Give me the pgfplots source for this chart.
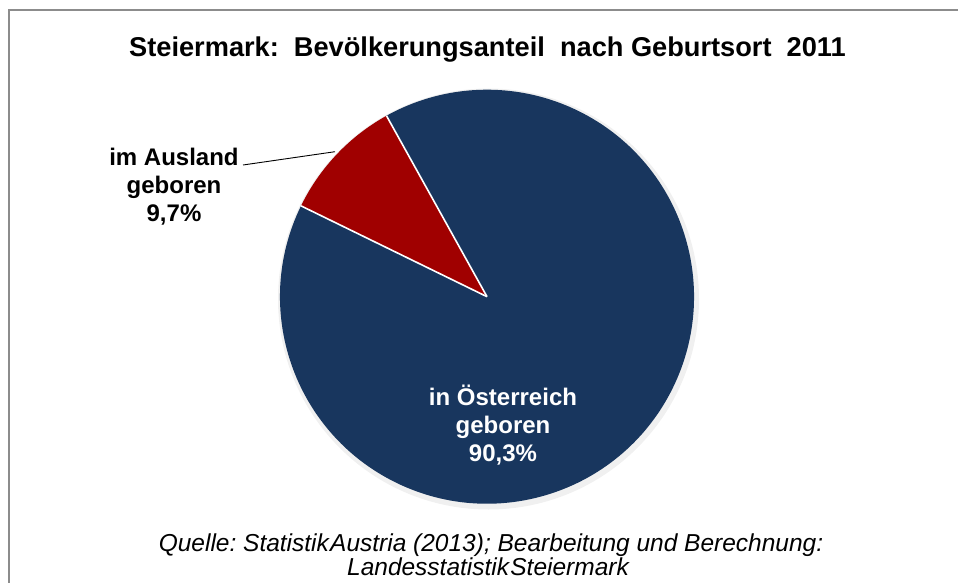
\documentclass[border=0pt]{standalone}
\usepackage{pgfplots}
\pgfplotsset{compat=1.18}
\usepackage{pgfplotstable}
\usepackage{fontspec}
\setmainfont{Liberation Sans}
\definecolor{pieblue}{RGB}{24,54,94}
\definecolor{piered}{RGB}{160,0,0}
\definecolor{framegray}{RGB}{140,140,140}
\pgfplotstableread{
share value
Ausland 9.7
Oesterreich 90.3
}\piedata
\begin{document}
\frenchspacing
\begin{tikzpicture}
\pgfplotstablegetelem{0}{value}\of\piedata \edef\va{\pgfplotsretval}
\pgfplotstablegetelem{1}{value}\of\piedata \edef\vb{\pgfplotsretval}
\pgfmathsetmacro\aStart{119.05}
\pgfmathsetmacro\aEnd{\aStart+\va*3.6}
\pgfmathsetmacro\bEnd{\aEnd+\vb*3.6}
\path[use as bounding box] (0,0) rectangle (958pt,582pt);
\begin{axis}[at={(0,0)}, anchor=south west, x=1pt, y=1pt, xmin=0, xmax=958, ymin=0, ymax=582, hide axis, clip=false, scale only axis]
% frame (top and left edges visible)
\draw[framegray, line width=2pt] (axis cs:9,-5) -- (axis cs:9,572) -- (axis cs:965,572);
% shadow
\fill[black!12] (axis cs:488,283.8) circle[radius=209pt];
\fill[black!6] (axis cs:488.5,283) circle[radius=210.5pt];
% wedges
\fill[pieblue] (axis cs:487,285.3) -- ++(\aEnd:207pt) arc[start angle=\aEnd, end angle=\bEnd, radius=207pt] -- cycle;
\fill[piered] (axis cs:487,285.3) -- ++(\aStart:207pt) arc[start angle=\aStart, end angle=\aEnd, radius=207pt] -- cycle;
\draw[white, line width=1.6pt] (axis cs:487,285.3) -- ++(\aStart:207pt);
\draw[white, line width=1.6pt] (axis cs:487,285.3) -- ++(\aEnd:207pt);
% leader line
\draw[black, line width=0.9pt] (axis cs:243,417) -- (axis cs:335,430.3);
% title
\node[anchor=base, inner sep=0pt, font=\fontsize{27.2}{30}\selectfont\bfseries] at (axis cs:487.5,525) {Steiermark:\ \ Bevölkerungsanteil\ \ nach Geburtsort\ \ 2011};
% outside label
\begin{scope}[every node/.style={anchor=base, inner sep=0pt, font=\fontsize{24}{28}\selectfont\bfseries}]
\node at (axis cs:174,416) {im Ausland};
\node at (axis cs:174,388) {geboren};
\node at (axis cs:174,360) {9,7\%};
\node[text=white] at (axis cs:503,177) {in Österreich};
\node[text=white] at (axis cs:503,149) {geboren};
\node[text=white] at (axis cs:503,121) {90,3\%};
\end{scope}
% source
\begin{scope}[every node/.style={anchor=base, inner sep=0pt, font=\fontsize{24.5}{26}\selectfont\itshape}]
\node at (axis cs:491,31) {Quelle: Statistik\hspace{0.05em}Austria (2013); Bearbeitung und Berechnung:};
\node at (axis cs:488,7) {Landesstatistik\hspace{0.05em}Steiermark};
\end{scope}
\end{axis}
\end{tikzpicture}
\end{document}
